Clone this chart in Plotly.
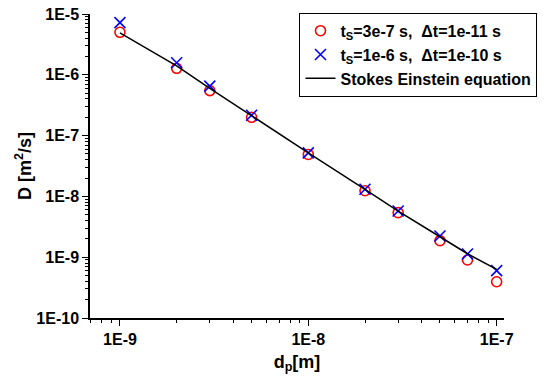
import plotly.graph_objects as go

# particle diameters [m]
dp = [1e-9, 2e-9, 3e-9, 5e-9, 1e-8, 2e-8, 3e-8, 5e-8, 7e-8, 1e-7]
# ts=3e-7 s, dt=1e-11 s (red circles)
D_red = [5.0e-6, 1.28e-6, 5.5e-7, 2.0e-7, 4.9e-8, 1.24e-8, 5.4e-9, 1.87e-9, 9.0e-10, 3.95e-10]
# ts=1e-6 s, dt=1e-10 s (blue crosses)
D_blue = [7.2e-6, 1.58e-6, 6.5e-7, 2.16e-7, 5.2e-8, 1.31e-8, 5.75e-9, 2.23e-9, 1.13e-9, 6.0e-10]
# Stokes Einstein equation (line)
D_se = [4.9e-6, 1.40e-6, 6.0e-7, 2.1e-7, 5.2e-8, 1.30e-8, 5.7e-9, 2.17e-9, 1.14e-9, 6.3e-10]

x_tickvals = [1e-9, 1e-8, 1e-7]
x_ticktext = ["1E-9", "1E-8", "1E-7"]
y_tickvals = [1e-10, 1e-9, 1e-8, 1e-7, 1e-6, 1e-5]
y_ticktext = ["1E-10", "1E-9", "1E-8", "1E-7", "1E-6", "1E-5"]

FONT = "Liberation Sans, Arial, sans-serif"

fig = go.Figure()
fig.add_trace(go.Scatter(
    x=dp, y=D_red, mode="markers",
    name="<b>t<sub>S</sub>=3e-7 s,  Δt=1e-11 s</b>",
    marker=dict(symbol="circle-open", size=10, color="#ff0000", line=dict(width=1.6, color="#ff0000")),
))
fig.add_trace(go.Scatter(
    x=dp, y=D_blue, mode="markers",
    name="<b>t<sub>S</sub>=1e-6 s,  Δt=1e-10 s</b>",
    marker=dict(symbol="x-thin-open", size=11, color="#0000ff", line=dict(width=1.6, color="#0000ff")),
))
fig.add_trace(go.Scatter(
    x=dp, y=D_se, mode="lines",
    name="<b>Stokes Einstein equation</b>",
    line=dict(color="black", width=1.5),
))

fig.update_layout(
    width=556, height=381,
    margin=dict(l=90, r=52, t=14, b=63, autoexpand=False),
    paper_bgcolor="white", plot_bgcolor="white",
    font=dict(family=FONT, color="black", size=16),
    showlegend=True,
    legend=dict(
        x=0.506, y=1.004, xanchor="left", yanchor="top",
        bgcolor="white", bordercolor="black", borderwidth=1,
        font=dict(family=FONT, size=16, color="black"),
        tracegroupgap=0,
    ),
    xaxis=dict(
        type="log", range=[-9.159, -6.961], automargin=False,
        showline=True, linecolor="black", linewidth=1.5, mirror=False,
        showgrid=False, zeroline=False,
        ticks="outside", ticklen=6, tickwidth=1.2, tickcolor="black",
        tickvals=x_tickvals, ticktext=["<b>%s</b>" % t for t in x_ticktext],
        tickfont=dict(family=FONT, size=16, color="black"),
        minor=dict(ticks="outside", ticklen=3, tickwidth=1, tickcolor="black", dtick="D1", showgrid=False),
        title=dict(text="<b>d<sub>p</sub>[m]</b>", font=dict(family=FONT, size=18, color="black"), standoff=8),
    ),
    yaxis=dict(
        type="log", range=[-10, -5], automargin=False,
        showline=True, linecolor="black", linewidth=1.5, mirror=False,
        showgrid=False, zeroline=False,
        ticks="outside", ticklen=6, tickwidth=1.2, tickcolor="black",
        tickvals=y_tickvals, ticktext=["<b>%s</b>" % t for t in y_ticktext],
        tickfont=dict(family=FONT, size=16, color="black"),
        minor=dict(ticks="outside", ticklen=3, tickwidth=1, tickcolor="black", dtick="D1", showgrid=False),
        title=dict(text="<b>D [m<sup>2</sup>/s]</b>", font=dict(family=FONT, size=18, color="black"), standoff=0),
    ),
)

fig.write_html("out.html", config={"displayModeBar": False},
               post_script="document.body.style.margin='0px';")
